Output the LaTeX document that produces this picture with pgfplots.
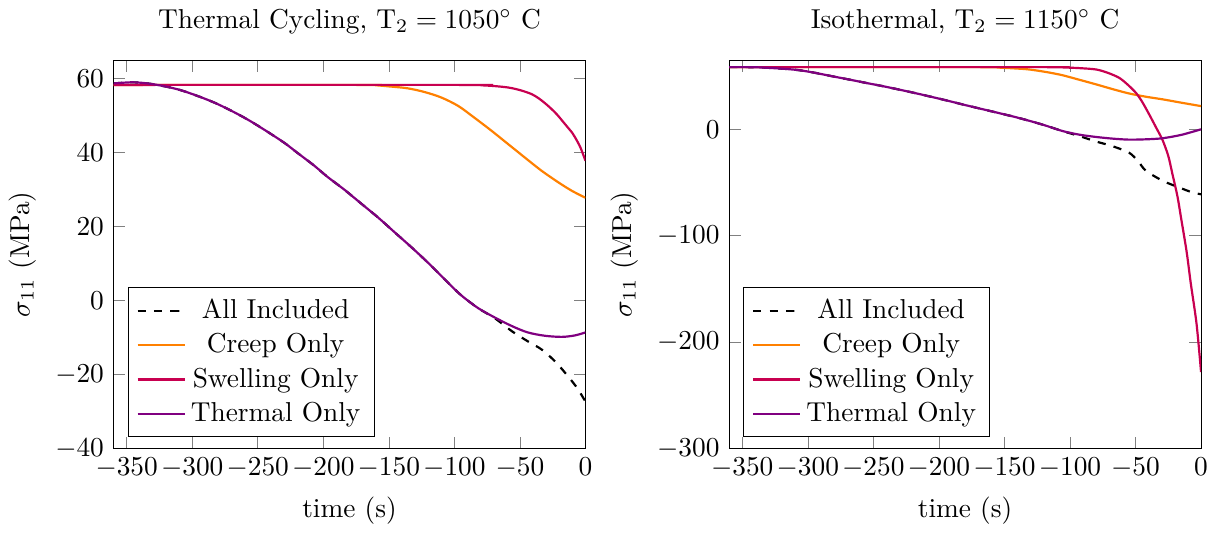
\documentclass[border=0pt]{standalone}
\usepackage{pgfplots}
\pgfplotsset{compat=1.18}
\definecolor{creepc}{RGB}{255,128,0}
\definecolor{swellc}{RGB}{200,0,80}
\definecolor{thermc}{RGB}{128,0,128}
\pgfplotsset{
  myax/.style={
    scale only axis, width=172.5pt, height=142pt,
    xmin=-360, xmax=0, xtick={-350,-300,...,0},
    xlabel={time (s)}, ylabel={$\sigma_{11}$ (MPa)},
    legend cell align=center, legend pos=south west,
  }
}
\begin{document}
\begin{tikzpicture}
\begin{axis}[myax, ymin=-40, ymax=65,
  title={Thermal Cycling, T$_2 = 1050^\circ$ C}]
\addplot[black, dashed, thick, smooth] coordinates {
(-360,58.7)(-345,59.0)(-330,58.5)(-309,56.9)(-283,53.5)(-258,49.0)(-232,43.2)(-220,40.0)
(-207,36.5)(-197,33.5)(-184,30.0)(-171,26.2)(-158,22.4)(-146,18.6)(-133,14.5)(-120,10.2)
(-107,5.6)(-95,1.5)(-82,-2.0)(-69,-4.8)(-56,-8.3)(-44,-11.0)(-33.5,-13.2)(-23,-16.5)
(-13,-20.6)(-6,-23.8)(0,-27.3)};
\addlegendentry{All Included}
\addplot[creepc, thick, smooth] coordinates {
(-360,58.3)(-170,58.3)(-160,58.2)(-150,57.9)(-136,57.4)(-123,56.4)(-110,54.9)(-97,52.6)
(-85,49.5)(-72,46.0)(-59,42.3)(-46,38.6)(-33.5,35.1)(-20,31.8)(-10,29.6)(0,27.8)};
\addlegendentry{Creep Only}
\addplot[swellc, thick, smooth] coordinates {
(-360,58.3)(-90,58.3)(-80,58.2)(-70,58.0)(-59,57.6)(-50,56.9)(-41,55.8)(-35,54.5)
(-28.4,52.6)(-22,50.4)(-15.6,47.7)(-10,45.3)(-7.9,44.1)(-4,41.5)(0,37.8)};
\addlegendentry{Swelling Only}
\addplot[thermc, thick, smooth] coordinates {
(-360,58.7)(-345,59.0)(-330,58.5)(-309,56.9)(-283,53.5)(-258,49.0)(-232,43.2)(-220,40.0)
(-207,36.5)(-197,33.5)(-184,30.0)(-171,26.2)(-158,22.4)(-146,18.6)(-133,14.5)(-120,10.2)
(-107,5.6)(-95,1.5)(-82,-2.0)(-69,-4.6)(-56,-6.9)(-44,-8.6)(-31,-9.5)(-18,-9.8)
(-8,-9.4)(0,-8.6)};
\addlegendentry{Thermal Only}
\end{axis}
\begin{axis}[myax, at={(225pt,0)}, ymin=-300, ymax=65,
  title={Isothermal, T$_2 = 1150^\circ$ C}]
\addplot[black, dashed, thick, smooth] coordinates {
(-360,58.4)(-340,58.3)(-320,57.0)(-307,55.6)(-295,53.2)(-282,50.0)(-269,46.9)(-256,43.7)
(-243,40.6)(-231,37.5)(-218,34.0)(-205,30.3)(-192,26.5)(-180,22.8)(-167,19.0)(-154,15.2)
(-141,11.3)(-129,7.3)(-118,3.3)(-106,-1.5)(-93,-6.3)(-80,-11.5)(-68,-15.7)(-55,-21.9)
(-48,-30)(-42,-39)(-29,-48.5)(-16.6,-54.7)(-6.4,-59.4)(0,-61)};
\addlegendentry{All Included}
\addplot[creepc, thick, smooth] coordinates {
(-360,58.4)(-170,58.4)(-155,58.0)(-142,57.2)(-131,56.2)(-118,53.8)(-106,50.9)(-93,46.6)
(-80,42.2)(-67,37.6)(-55,33.7)(-42,30.6)(-29,28.1)(-15,25.0)(0,21.8)};
\addlegendentry{Creep Only}
\addplot[swellc, thick, smooth] coordinates {
(-360,58.4)(-120,58.4)(-105,58.1)(-93,57.5)(-80,56.2)(-71,53.0)(-62.5,48.4)(-56,42)
(-49.7,34.3)(-45,26)(-39.6,14.1)(-34,1)(-29.4,-10)(-25,-25)(-21.8,-42.2)(-18,-63)
(-15.3,-82.8)(-11,-115)(-7.8,-145)(-3.4,-183)(0,-228)};
\addlegendentry{Swelling Only}
\addplot[thermc, thick, smooth] coordinates {
(-360,58.4)(-340,58.3)(-320,57.0)(-307,55.6)(-295,53.2)(-282,50.0)(-269,46.9)(-256,43.7)
(-243,40.6)(-231,37.5)(-218,34.0)(-205,30.3)(-192,26.5)(-180,22.8)(-167,19.0)(-154,15.2)
(-141,11.3)(-129,7.3)(-118,3.3)(-106,-1.5)(-93,-5.0)(-80,-7.2)(-67,-8.8)(-55,-9.7)
(-42,-9.4)(-29.4,-8.4)(-15,-5.2)(0,0)};
\addlegendentry{Thermal Only}
\end{axis}
\end{tikzpicture}
\end{document}
